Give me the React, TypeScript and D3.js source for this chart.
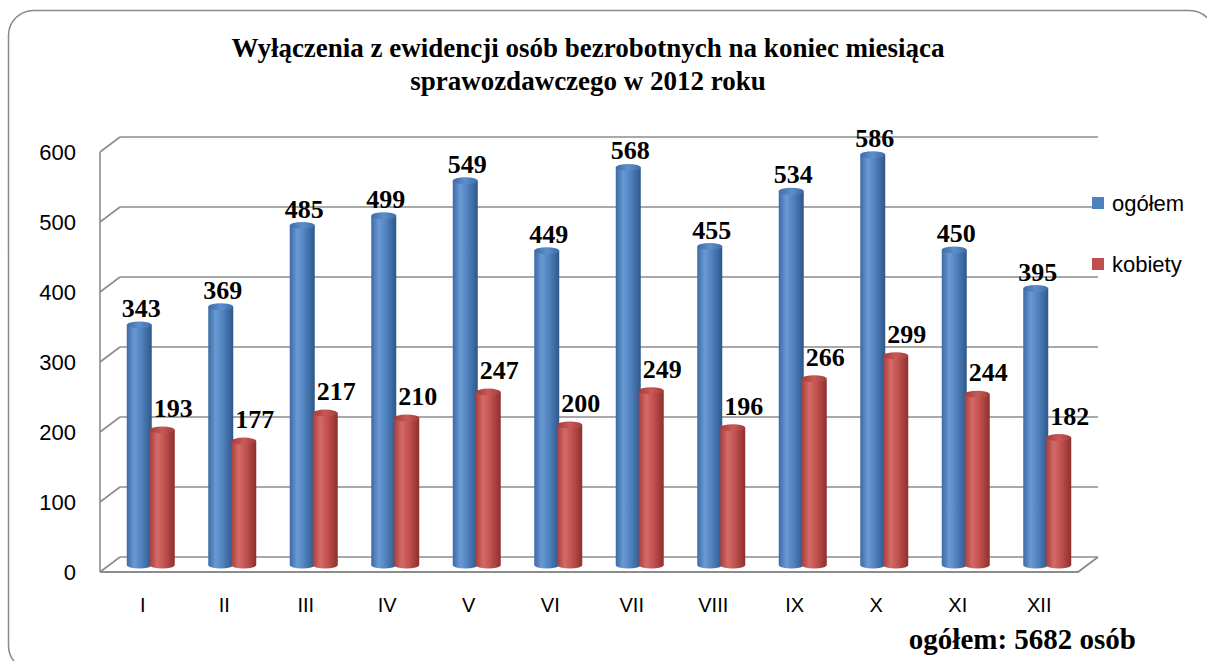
import React from "react";
import * as d3 from "d3";

const months = ["I", "II", "III", "IV", "V", "VI", "VII", "VIII", "IX", "X", "XI", "XII"];
const ogolem = [343, 369, 485, 499, 549, 449, 568, 455, 534, 586, 450, 395];
const kobiety = [193, 177, 217, 210, 247, 200, 249, 196, 266, 299, 244, 182];
const yTicks = [0, 100, 200, 300, 400, 500, 600];
const titleLines = [
  "Wyłączenia z ewidencji osób bezrobotnych na koniec miesiąca",
  "sprawozdawczego w 2012 roku",
];
const legendItems = ["ogółem", "kobiety"];
const footer = "ogółem: 5682 osób";

const W = 1207;
const H = 661;
// przesunięcie głębi (efekt 3D)
const depthX = 20;
const depthY = -15;
const front = { left: 100, right: 1078, bottom: 572 };

const App = () => {
  const x = d3.scaleBand<string>().domain(months).range([front.left, front.right]);
  // tylna ściana
  const yBack = d3.scaleLinear().domain([0, 600]).range([front.bottom + depthY, 137]);
  // słupki stoją w połowie głębokości
  const yBar = d3.scaleLinear().domain([0, 600]).range([front.bottom - 7, 137 + 7 + 1]);

  const barW = 25;
  const ry = 3.5;
  const grid = "#8c8c8c";
  const serif = "'Liberation Serif', 'Times New Roman', serif";
  const sans = "'Liberation Sans', Arial, sans-serif";

  const cylinder = (cx: number, v: number, color: string, key: string) => {
    const top = yBar(v);
    const base = yBar(0);
    return (
      <g key={key}>
        <path
          d={`M${cx - barW / 2},${top} L${cx - barW / 2},${base} A${barW / 2},${ry} 0 0 0 ${cx + barW / 2},${base} L${cx + barW / 2},${top} Z`}
          fill={`url(#side-${color})`}
        />
        <ellipse cx={cx} cy={top} rx={barW / 2} ry={ry} fill={`url(#top-${color})`} />
      </g>
    );
  };

  return (
    <svg width={W} height={H} style={{ position: "absolute", left: 0, top: 0 }}>
      <defs>
        <linearGradient id="side-blue" x1="0" x2="1" y1="0" y2="0">
          <stop offset="0%" stopColor="#3b6aa6" />
          <stop offset="30%" stopColor="#6a9ad4" />
          <stop offset="60%" stopColor="#4f81bd" />
          <stop offset="100%" stopColor="#2e5789" />
        </linearGradient>
        <linearGradient id="side-red" x1="0" x2="1" y1="0" y2="0">
          <stop offset="0%" stopColor="#a83e3b" />
          <stop offset="30%" stopColor="#d46b68" />
          <stop offset="60%" stopColor="#c0504d" />
          <stop offset="100%" stopColor="#8d302e" />
        </linearGradient>
        <linearGradient id="top-blue" x1="0" x2="1" y1="0" y2="0">
          <stop offset="0%" stopColor="#3d6ca8" />
          <stop offset="50%" stopColor="#5e8ecb" />
          <stop offset="100%" stopColor="#3d6ca8" />
        </linearGradient>
        <linearGradient id="top-red" x1="0" x2="1" y1="0" y2="0">
          <stop offset="0%" stopColor="#a23c39" />
          <stop offset="50%" stopColor="#c95956" />
          <stop offset="100%" stopColor="#a23c39" />
        </linearGradient>
      </defs>

      <rect x={8.5} y={10.5} width={1206} height={660} rx={25} fill="#fff" stroke="#888" strokeWidth={1.5} />

      {titleLines.map((t, i) => (
        <text key={t} x={588} y={57 + i * 33} textAnchor="middle" fontFamily={serif} fontWeight="bold" fontSize={27}>
          {t}
        </text>
      ))}

      {/* siatka: ściana tylna + lewa */}
      {yTicks.map((t) => (
        <g key={t} stroke={grid} strokeWidth={1.6} fill="none">
          <line x1={front.left + depthX} x2={front.right + depthX} y1={yBack(t)} y2={yBack(t)} />
          <line x1={front.left} x2={front.left + depthX} y1={yBack(t) - depthY} y2={yBack(t)} />
        </g>
      ))}
      <line x1={front.left} x2={front.left} y1={yBack(600) - depthY} y2={front.bottom} stroke={grid} strokeWidth={1.6} />
      {/* podłoga */}
      <path
        d={`M${front.left},${front.bottom} L${front.right},${front.bottom} L${front.right + depthX},${front.bottom + depthY}`}
        stroke={grid}
        strokeWidth={2}
        fill="none"
      />

      {yTicks.map((t) => (
        <text key={t} x={76} y={yBack(t) - depthY + 8} textAnchor="end" fontFamily={sans} fontSize={22}>
          {t}
        </text>
      ))}

      {months.map((m, i) => {
        const c = (x(m) ?? 0) + x.bandwidth() / 2 + depthX / 2;
        return (
          <g key={m}>
            {cylinder(c - barW / 2 + 1, ogolem[i], "blue", "b")}
            {cylinder(c + barW / 2 - 1, kobiety[i], "red", "r")}
          </g>
        );
      })}

      {months.map((m, i) => {
        const c = (x(m) ?? 0) + x.bandwidth() / 2 + depthX / 2;
        return (
          <g key={m} fontFamily={serif} fontWeight="bold" fontSize={26} textAnchor="middle">
            <text x={c - barW / 2 + 3} y={yBar(ogolem[i]) - 8}>{ogolem[i]}</text>
            <text x={c + barW / 2 + 10} y={yBar(kobiety[i]) - 13}>{kobiety[i]}</text>
          </g>
        );
      })}

      {months.map((m) => (
        <text key={m} x={(x(m) ?? 0) + x.bandwidth() / 2 + 2} y={612} textAnchor="middle" fontFamily={sans} fontSize={20}>
          {m}
        </text>
      ))}

      {legendItems.map((l, i) => (
        <g key={l}>
          <rect x={1092} y={197 + i * 61} width={12} height={12} fill={i === 0 ? "#4f81bd" : "#c0504d"} />
          <text x={1112} y={211 + i * 61} fontFamily={sans} fontSize={22}>
            {l}
          </text>
        </g>
      ))}

      <text x={1136} y={649} textAnchor="end" fontFamily={serif} fontWeight="bold" fontSize={29}>
        {footer}
      </text>
    </svg>
  );
};

export default App;
